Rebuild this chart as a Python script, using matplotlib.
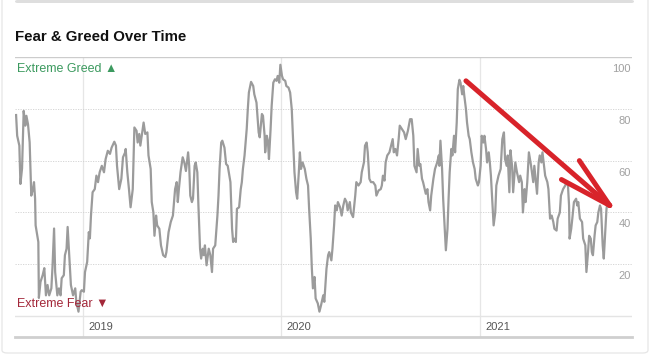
"""
Fear & Greed Over Time - CNN style line chart with a hand-drawn red arrow.
"""
import numpy as np
import pandas as pd
import matplotlib
matplotlib.use("Agg")
import matplotlib.pyplot as plt
import matplotlib.patches as mpatches
from matplotlib.transforms import offset_copy

plt.rcParams["font.family"] = ["Liberation Sans", "DejaVu Sans"]

# ---------- data ----------
START = pd.Timestamp("2019-01-01")

# day offsets from 2019-01-01
days = [
    -123, -121, -117, -115, -112, -109, -106, -104, -101, -98,
    -95, -92, -90, -88, -87, -82, -81, -78, -74, -71,
    -68, -65, -62, -58, -56, -53, -51, -47, -44, -41,
    -39, -35, -33, -30, -28, -25, -22, -18, -14, -12,
    -8, -4, -2, 2, 4, 8, 11, 13, 15, 18,
    22, 25, 28, 31, 35, 39, 42, 46, 50, 53,
    58, 61, 63, 67, 71, 74, 78, 79, 82, 85,
    88, 92, 95, 99, 101, 104, 106, 109, 112, 115,
    119, 121, 125, 127, 130, 132, 135, 137, 141, 144,
    148, 152, 154, 158, 162, 164, 166, 170, 173, 175,
    177, 180, 184, 187, 190, 194, 196, 198, 201, 203,
    206, 208, 211, 213, 216, 218, 221, 223, 225, 228,
    232, 235, 238, 240, 244, 248, 250, 252, 255, 257,
    261, 264, 267, 270, 272, 275, 277, 280, 282, 284,
    288, 291, 293, 295, 298, 302, 304, 306, 310, 314,
    316, 320, 324, 326, 330, 332, 335, 336, 339, 341,
    343, 346, 348, 351, 354, 357, 359, 362, 364, 367,
    369, 373, 375, 379, 382, 385, 388, 390, 393, 395,
    398, 400, 402, 405, 409, 412, 415, 417, 420, 422,
    424, 427, 429, 433, 436, 439, 443, 445, 449, 452,
    454, 458, 460, 463, 465, 468, 470, 474, 477, 480,
    483, 486, 488, 492, 494, 498, 502, 504, 508, 512,
    514, 518, 520, 523, 525, 528, 531, 535, 539, 541,
    545, 549, 551, 553, 556, 558, 561, 565, 568, 571,
    573, 576, 579, 582, 584, 588, 592, 595, 599, 603,
    606, 609, 611, 615, 617, 620, 622, 625, 627, 630,
    632, 635, 637, 640, 642, 646, 649, 653, 656, 657,
    659, 662, 664, 667, 669, 672, 674, 676, 679, 681,
    684, 686, 689, 691, 694, 696, 699, 701, 703, 706,
    708, 711, 713, 716, 719, 722, 724, 728, 730, 733,
    735, 738, 740, 743, 745, 748, 750, 752, 755, 757,
    760, 762, 766, 770, 773, 776, 778, 781, 783, 786,
    788, 791, 793, 797, 800, 804, 806, 809, 811, 814,
    816, 819, 822, 826, 830, 832, 835, 837, 840, 842,
    845, 847, 850, 852, 856, 858, 861, 864, 867, 869,
    873, 875, 879, 881, 885, 889, 891, 894, 896, 897,
    900, 902, 905, 909, 911, 913, 916, 920, 922, 926,
    928, 931, 933, 936, 938, 940, 943, 945, 948, 950,
    953, 955, 958, 960, 962, 965, 966,
]

index_values = [
    77.6, 69.6, 65.8, 51, 57, 79.2, 73.5, 77.3, 74, 67,
    46.5, 49, 51.7, 45.4, 35, 28.6, 7, 13.2, 15.8, 18.5,
    8, 12, 8, 10.7, 18.5, 33.8, 17, 8, 10.7, 8,
    14.6, 15.8, 23.5, 26, 34.4, 23.5, 12, 8, 10.7, 5.5,
    1.7, 9.4, 10, 9.4, 17, 20.9, 32.4, 30, 38.8, 47.8,
    49, 54.2, 51.7, 55.5, 58, 55.5, 60.6, 63.8, 62.6, 65,
    67.3, 65.8, 58, 49, 53, 61.3, 63.2, 64.5, 55.5, 49,
    42, 49, 72.8, 71.5, 67, 70.3, 65.8, 70.3, 74.7, 70.3,
    70.9, 62, 56.8, 44, 40, 31, 38.8, 35, 33.7, 27.3,
    23.5, 22.8, 24.7, 32.4, 36.3, 37.6, 38.8, 49, 51.7, 44,
    49, 55.5, 61.3, 59.3, 56, 63.2, 58, 46.5, 44, 45.3,
    58, 59.3, 55.5, 42.7, 26, 22.2, 26, 23.5, 27.3, 19.6,
    26, 23.5, 17, 26, 27.3, 38.8, 46.5, 57, 67, 67.7,
    65, 58.7, 58, 54.2, 51.7, 33.7, 28.6, 29.9, 28.6, 41.4,
    42, 49, 51.7, 56.8, 62, 72.2, 79.9, 86.3, 90.4, 88.8,
    85.6, 82.4, 70.9, 69, 78, 77.3, 69.6, 63.2, 69.6, 67.7,
    60.6, 72.2, 81.2, 90.1, 91.4, 90.8, 92.7, 90.1, 97, 92.7,
    91.4, 90.8, 88.8, 88.2, 86.3, 79.9, 65.8, 55.5, 47.8, 45.3,
    55.5, 63.2, 56.8, 59.3, 56.8, 53, 50.4, 41.4, 29.9, 18.5,
    10.7, 15.1, 6.8, 4.9, 1.7, 4.2, 8, 5.5, 18.3, 23.5,
    24.7, 21.5, 26, 35, 42.7, 40.8, 44, 42, 38.8, 42.7,
    45.3, 44, 40.8, 44, 40, 38.2, 46.5, 51.7, 50.4, 51.7,
    55.5, 59.3, 65.8, 67, 63.2, 53, 51.7, 51.7, 50.4, 46.5,
    48.5, 49, 50.4, 54.2, 52.3, 59.3, 62, 63.2, 65.8, 68.3,
    63.2, 64.5, 62, 68.3, 73.5, 72.2, 70.9, 68.3, 71.5, 76,
    76, 69.6, 58, 55.5, 64.5, 58, 58.7, 53, 51.7, 49,
    47.2, 49, 44, 40.8, 46.5, 53, 56.8, 59.3, 62, 58,
    67.7, 56.8, 45.3, 33.7, 25.4, 33.7, 45.3, 55.5, 64.5, 62,
    69.6, 63.2, 74.7, 87.6, 91.2, 90.1, 85.6, 88.8, 85, 79.9,
    74.7, 69.6, 68.3, 63.2, 59.3, 56.8, 53, 50.4, 51.7, 58,
    69.6, 67, 69.6, 64.5, 59.3, 63.2, 59.3, 54.2, 42.7, 35,
    40, 50.4, 54.2, 56.8, 68.3, 70.9, 60.6, 58, 62, 47.8,
    64, 58, 47.8, 59.3, 55.5, 51.7, 54.2, 51.7, 40, 49,
    44, 51.7, 63.2, 58, 51.7, 58, 51.7, 47.2, 59.3, 62,
    59.3, 63.2, 58, 54.2, 51.7, 49, 37.6, 38.8, 36.3, 33.7,
    33, 37.6, 40, 46.5, 49, 50.4, 51.7, 50.4, 42.7, 29.9,
    33.7, 37.6, 44, 45.3, 42.7, 44, 37.6, 36.3, 29.9, 27.3,
    17, 24.7, 31, 29.9, 24.7, 23.5, 31, 35, 36.3, 40,
    42.7, 41.4, 27.3, 22.2, 29.9, 41.4, 42.7,
]
assert len(days) == len(index_values)

year_labels = ["2019", "2020", "2021"]
y_ticks = [20, 40, 60, 80, 100]

dates = START + pd.to_timedelta(days, unit="D")

# ---------- figure ----------
W, H = 650, 356
fig = plt.figure(figsize=(W / 100, H / 100), dpi=100)
fig.patch.set_facecolor("white")

# card frame + top bar
fig.patches.append(mpatches.FancyBboxPatch(
    (2 / W, 3 / H), 646 / W, 1.2, boxstyle="round,pad=0,rounding_size=0.008",
    transform=fig.transFigure, facecolor="none", edgecolor="#e6e6e6", lw=0.9))
fig.patches.append(mpatches.FancyBboxPatch(
    (15 / W, (H - 3) / H), 619 / W, 3 / H, boxstyle="round,pad=0,rounding_size=0.004",
    transform=fig.transFigure, facecolor="#dedede", edgecolor="none"))

fig.text(15 / W, 1 - 37 / H, "Fear & Greed Over Time", fontsize=10.8,
         fontweight="bold", color="#111111", va="center", ha="left")

ybot = -(337 - 316) / 2.6
ax = fig.add_axes([15 / W, (H - 337) / H, 617 / W, (337 - 57) / H])
ax.set_xlim(START + pd.Timedelta(days=-125), START + pd.Timedelta(days=1012))
ax.set_ylim(ybot, 100)

for s in ["top", "left", "right"]:
    ax.spines[s].set_visible(False)
ax.spines["bottom"].set_color("#cfcfcf")
ax.spines["bottom"].set_linewidth(2)
ax.set_xticks([])
ax.set_yticks([])

# grid
for yr in year_labels:
    ax.axvline(pd.Timestamp(f"{yr}-01-01"), color="#e6e6e6", lw=0.9, zorder=1)
ax.axhline(100, color="#cccccc", lw=1.0, zorder=1)
ax.axhline(0, color="#e4e4e4", lw=1.0, zorder=1)
for v in y_ticks[:-1]:
    ax.axhline(v, color="#d0d0d0", lw=0.6, ls=(0, (1.5, 1.5)), zorder=1)

# y labels under their grid lines on the right
ylab_tr = offset_copy(ax.get_yaxis_transform(), fig=fig, x=-1, y=-12, units="dots")
for v in y_ticks:
    ax.text(1.0, v, str(v), transform=ylab_tr, ha="right", va="center",
            fontsize=8, color="#a0a0a0")

# year labels
xlab_tr = offset_copy(ax.transData, fig=fig, x=6, y=0, units="dots")
for yr in year_labels:
    ax.text(pd.Timestamp(f"{yr}-01-01"), -(327 - 316) / 2.6, yr, transform=xlab_tr,
            ha="left", va="center", fontsize=8, color="#555555")

# extreme labels
ax.text(0.003, (316 - 68) / 2.6, "Extreme Greed \u25B2", transform=ax.get_yaxis_transform(),
        ha="left", va="center", fontsize=9, color="#3c9a5f", zorder=4)
ax.text(0.003, (316 - 304) / 2.6, "Extreme Fear \u25BC", transform=ax.get_yaxis_transform(),
        ha="left", va="center", fontsize=9, color="#a3283a", zorder=4)

# the index line
ax.plot(dates, index_values, color="#9b9b9b", lw=1.6, solid_joinstyle="round", zorder=3)

# hand-drawn red arrow
red = "#d8232a"
tip = (START + pd.Timedelta(days=971), 42.7)
arrow_starts = [
    (START + pd.Timedelta(days=706), 90.8),
    (START + pd.Timedelta(days=915), 60.0),
    (START + pd.Timedelta(days=882), 52.7),
]
for sx, sy in arrow_starts:
    ax.plot([sx, tip[0]], [sy, tip[1]], color=red, lw=3.6,
            solid_capstyle="round", zorder=5)

fig.savefig("out.png", dpi=100, facecolor="white")
